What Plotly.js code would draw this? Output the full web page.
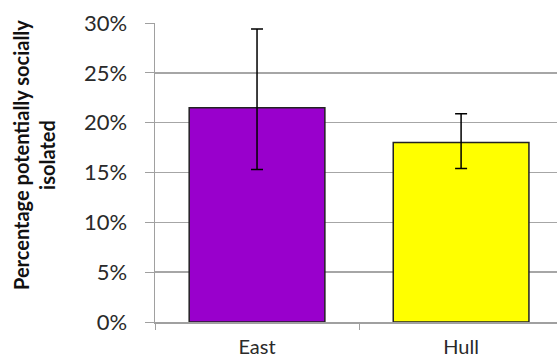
<!DOCTYPE html>
<html>
<head>
<meta charset="utf-8">
<script src="https://cdn.plot.ly/plotly-3.0.1.min.js"></script>
<style>html,body{margin:0;padding:0;background:#fff;}#chart{width:557px;height:360px;}</style>
</head>
<body>
<div id="chart"></div>
<script>
const categories = ['East', 'Hull'];
const values = [0.215, 0.180];
const errPlus = [0.079, 0.029];
const errMinus = [0.062, 0.026];
const barColors = ['#9900CC', '#FFFF00'];
const yTickVals = [0, 0.05, 0.10, 0.15, 0.20, 0.25, 0.30];
const yTitle = '<b>Percentage potentially socially<br>isolated</b>';

const trace = {
  type: 'bar',
  x: categories,
  y: values,
  width: 0.665,
  marker: {color: barColors, line: {color: '#222222', width: 1.5}},
  error_y: {type: 'data', symmetric: false, array: errPlus, arrayminus: errMinus,
            color: '#000000', thickness: 1.5, width: 6},
  hoverinfo: 'none'
};

const layout = {
  width: 557, height: 360,
  margin: {l: 155, r: 0, t: 23, b: 38},
  paper_bgcolor: '#ffffff', plot_bgcolor: '#ffffff',
  font: {family: 'Lato, "Open Sans", sans-serif', color: '#2a2a2a'},
  showlegend: false,
  xaxis: {
    range: [-0.5, 1.47],
    showgrid: false,
    showline: true, linecolor: '#a0a0a0', linewidth: 1.5,
    ticks: 'outside', tickson: 'boundaries', ticklen: 6, tickcolor: '#a0a0a0', tickwidth: 1,
    tickfont: {size: 20, color: '#2a2a2a'},
    ticklabelstandoff: 6,
    fixedrange: true
  },
  yaxis: {
    range: [0, 0.30],
    tickvals: yTickVals,
    tickformat: '.0%',
    showgrid: true, gridcolor: '#a6a6a6', gridwidth: 1.5,
    zeroline: false,
    showline: true, linecolor: '#a0a0a0', linewidth: 1.5,
    ticks: 'outside', ticklen: 9, tickcolor: '#a0a0a0', tickwidth: 1,
    tickfont: {size: 22, color: '#2a2a2a'},
    ticklabelstandoff: 13,
    fixedrange: true
  },
  annotations: [{
    text: yTitle,
    xref: 'paper', yref: 'paper',
    x: 0, y: 0.5585,
    xanchor: 'center', yanchor: 'middle',
    xshift: -121,
    textangle: -90,
    showarrow: false,
    font: {size: 20, color: '#111111', family: 'Lato, "Open Sans", sans-serif'}
  }]
};

Plotly.newPlot('chart', [trace], layout, {staticPlot: true});
</script>
</body>
</html>
